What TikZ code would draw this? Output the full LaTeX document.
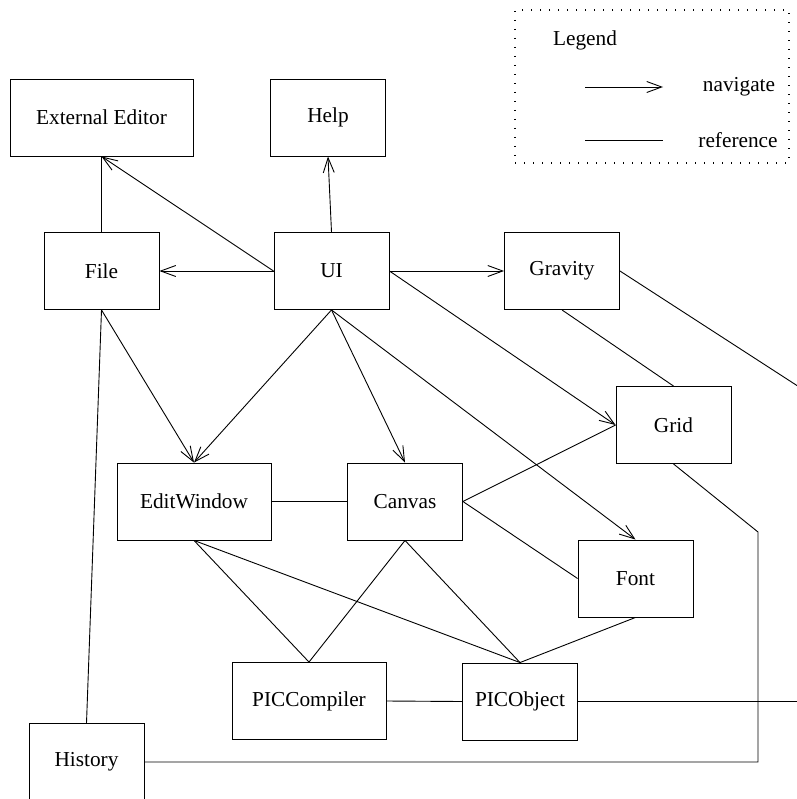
\documentclass[tikz,border=0pt]{standalone}
\usepackage{fontspec}
\setmainfont{Liberation Serif}
\usetikzlibrary{arrows.meta}
\begin{document}
\begin{tikzpicture}[x={(1pt,0)}, y={(0,-1pt)},
  every node/.style={font=\fontsize{21.3}{25}\selectfont},
  module/.style={draw, line width=0.9pt, minimum width=115pt, minimum height=77pt, inner sep=0pt},
  wide/.style={module, minimum width=154pt},
  ref/.style={line width=0.9pt},
  nav/.style={line width=0.9pt, -{Straight Barb[length=15pt,width=11pt,line width=0.9pt]}}
]
\useasboundingbox (0,0) rectangle (796,799);

% modules
\node[module, minimum width=183pt] (ext) at (101.5,117.5) {External Editor};
\node[module] (help) at (328,117.5) {Help};
\node[module] (file) at (101.5,271) {File};
\node[module] (ui) at (331.5,271) {UI};
\node[module] (grav) at (562,271) {Gravity};
\node[module] (grid) at (673.5,425) {Grid};
\node[wide] (edit) at (194,501.5) {EditWindow};
\node[module] (canvas) at (405,501.5) {Canvas};
\node[module] (font) at (635.5,578.5) {Font};
\node[wide] (comp) at (309,701) {PICCompiler};
\node[module] (obj) at (520,701.5) {PICObject};
\node[module] (hist) at (86.5,762) {History};

% off-page ends and bends
\coordinate (gravout) at (802,388.8);
\coordinate (objout) at (802,701.5);
\coordinate (bendA) at (758,532);
\coordinate (bendB) at (758,762);

% navigation
\draw[nav] (ui.west) -- (ext.south);
\draw[nav] (ui.north) -- (help.south);
\draw[nav] (ui.west) -- (file.east);
\draw[nav] (ui.east) -- (grav.west);
\draw[nav] (ui.east) -- (grid.west);
\draw[nav] (ui.south) -- (edit.north);
\draw[nav] (ui.south) -- (canvas.north);
\draw[nav] (ui.south) -- (font.north);
\draw[nav] (file.south) -- (edit.north);

% references
\draw[ref] (file.north) -- (ext.south);
\draw[ref] (file.south) -- (hist.north);
\draw[ref] (edit.east) -- (canvas.west);
\draw[ref] (canvas.east) -- (grid.west);
\draw[ref] (canvas.east) -- (font.west);
\draw[ref] (edit.south) -- (comp.north);
\draw[ref] (edit.south) -- (obj.north);
\draw[ref] (canvas.south) -- (comp.north);
\draw[ref] (canvas.south) -- (obj.north);
\draw[ref] (font.south) -- (obj.north);
\draw[ref] (comp.east) -- (obj.west);
\draw[ref] (grav.south) -- (grid.north);
\draw[ref] (grav.east) -- (gravout);
\draw[ref] (obj.east) -- (objout);
\draw[ref] (grid.south) -- (bendA) -- (bendB) -- (hist.east);

% legend
\node[draw, line width=1.6pt, dash pattern=on 1.4pt off 7.6pt, minimum width=274pt, minimum height=153pt, inner sep=0pt] (legend) at (652,86.5) {};
\node (legtitle) at (585,40) {Legend};
\coordinate (navA) at (585,87);
\coordinate (navB) at (663,87);
\coordinate (refA) at (585,140);
\coordinate (refB) at (663,140);
\draw[nav] (navA) -- (navB);
\draw[ref] (refA) -- (refB);
\node (navtext) at (739,87) {navigate};
\node (reftext) at (738,140) {reference};
\end{tikzpicture}
\end{document}
